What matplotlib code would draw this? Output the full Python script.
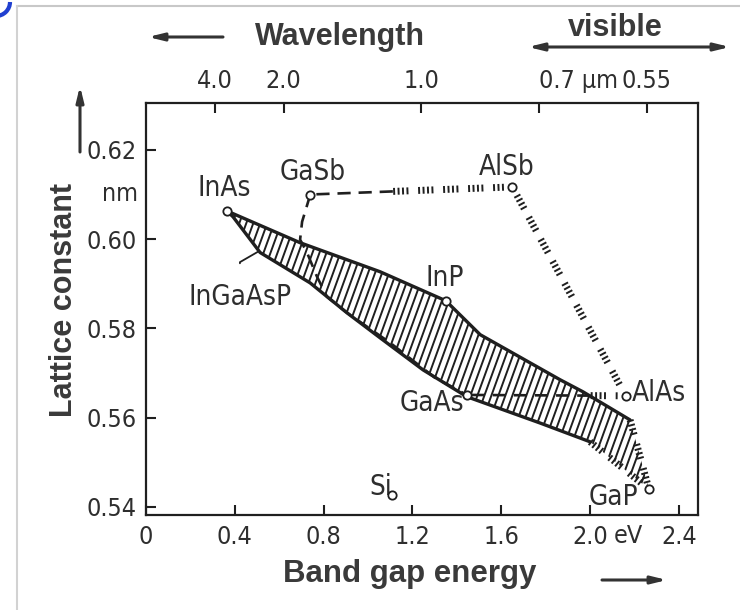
import matplotlib
matplotlib.use("Agg")
import matplotlib.pyplot as plt
import numpy as np
from matplotlib import font_manager
from matplotlib.patches import Polygon, Arc
from matplotlib.collections import LineCollection
from matplotlib.lines import Line2D

# binaries: band gap (eV) and lattice constant (nm)
compounds = ["InAs", "GaSb", "AlSb", "InP", "GaAs", "AlAs", "Si", "GaP"]
gap = [0.365, 0.74, 1.65, 1.35, 1.445, 2.16, 1.11, 2.265]
lattice = [0.6063, 0.6100, 0.6117, 0.5862, 0.5651, 0.5649, 0.5427, 0.5440]

# InGaAsP region, upper and lower edge (InAs -> right side)
upper_gap = [0.365, 0.694, 1.054, 1.35, 1.505, 1.865, 1.968, 2.18]
upper_lat = [0.6063, 0.5992, 0.5927, 0.5862, 0.5786, 0.5685, 0.5658, 0.5595]
lower_gap = [0.365, 0.392, 0.514, 0.739, 0.905, 1.054, 1.248, 1.445, 1.775, 2.0]
lower_lat = [0.6063, 0.6050, 0.5970, 0.5902, 0.5835, 0.5779, 0.5707, 0.5647, 0.5588, 0.5546]

# GaAsSb curve GaSb -> GaAs
gaassb_gap = [0.74, 0.703, 0.694, 0.725, 0.77, 0.815, 0.905, 0.995, 1.099, 1.30, 1.445]
gaassb_lat = [0.6100, 0.6039, 0.5999, 0.5970, 0.5916, 0.5871, 0.5835, 0.5804, 0.5768, 0.5690, 0.5651]

# axis ticks
e_ticks = [0, 0.4, 0.8, 1.2, 1.6, 2.0, 2.4]
e_labels = ["0", "0.4", "0.8", "1.2", "1.6", "2.0", "2.4"]
a_ticks = [0.54, 0.56, 0.58, 0.60, 0.62]
a_labels = ["0.54", "0.56", "0.58", "0.60", "0.62"]
wl_ticks = [4.0, 2.0, 1.0, 0.7, 0.55]
wl_labels = ["4.0", "2.0", "1.0", "0.7 µm", "0.55"]

INK = "#1f1f1f"
TXT = "#2e2e2e"
BOLD = ["Liberation Sans", "DejaVu Sans"]

# pick a narrow face for the technical lettering if one is installed
fonts = font_manager.fontManager.ttflist
names = {f.name for f in fonts}
narrow = dict(family=["Liberation Sans", "DejaVu Sans"])
small, big = 17, 19
if "Liberation Sans Narrow" in names:
    narrow = dict(family=["Liberation Sans Narrow", "DejaVu Sans"])
    small, big = 20, 22
elif any(f.name == "DejaVu Sans" and "condensed" in str(f.stretch) for f in fonts):
    narrow = dict(family=["DejaVu Sans"], stretch="condensed")
    small, big = 18, 20

# label offsets in pixels (dx, dy) from the point
offsets = {"InAs": (-3, 23), "GaSb": (2, 23), "AlSb": (-6, 20), "InP": (-1, 23),
           "GaAs": (-35, -8), "AlAs": (33, 3), "Si": (-12, 8), "GaP": (-35, -8)}

TICKED = dict(color=INK, lw=5.0, dashes=(0.28, 0.36, 0.28, 0.36, 0.28, 0.36, 0.28, 1.4),
              dash_capstyle="butt", solid_capstyle="butt")
DASHED = dict(color=INK, lw=1.9, dashes=(5, 3))

fig = plt.figure(figsize=(7.4, 6.1), dpi=100)
ax = fig.add_axes([146 / 740, 1 - 515 / 610, 552 / 740, 412 / 610])
ax.set_xlim(0.0, 2.486)
ax.set_ylim(0.5382, 0.6305)

pt = dict(zip(compounds, zip(gap, lattice)))

def seg(a, b, f0=0.0, f1=1.0):
    (x0, y0), (x1, y1) = pt[a], pt[b]
    return [x0 + f0 * (x1 - x0), x0 + f1 * (x1 - x0)], [y0 + f0 * (y1 - y0), y0 + f1 * (y1 - y0)]

# hatched InGaAsP region
poly_x = upper_gap + [pt["GaP"][0]] + lower_gap[::-1]
poly_y = upper_lat + [pt["GaP"][1]] + lower_lat[::-1]
region = Polygon(np.column_stack([poly_x, poly_y]), closed=True, fill=False, lw=0)
ax.add_patch(region)
starts = np.arange(-0.9, 2.6, 0.0315)
hatch = LineCollection([[(s, 0.535), (s + 0.709, 0.632)] for s in starts],
                       colors=INK, linewidths=1.4)
ax.add_collection(hatch)
hatch.set_clip_path(region)

ax.plot(upper_gap, upper_lat, color=INK, lw=2.4, solid_capstyle="round")
ax.plot(lower_gap, lower_lat, color=INK, lw=2.4, solid_capstyle="round")
ax.plot([upper_gap[-1], pt["GaP"][0]], [upper_lat[-1], pt["GaP"][1]], **TICKED)
ax.plot([lower_gap[-1], pt["GaP"][0]], [lower_lat[-1], pt["GaP"][1]], **TICKED)

# ternary lines
x, y = seg("GaSb", "AlSb", 0.03, 0.41)
ax.plot(x, y, **DASHED)
x, y = seg("GaSb", "AlSb", 0.41, 0.97)
ax.plot(x, y, **TICKED)
x, y = seg("AlSb", "AlAs", 0.04, 0.96)
ax.plot(x, y, **TICKED)
x, y = seg("GaAs", "AlAs", 0.03, 0.78)
ax.plot(x, y, **DASHED)
x, y = seg("GaAs", "AlAs", 0.78, 0.96)
ax.plot(x, y, **TICKED)
ax.plot(gaassb_gap, gaassb_lat, **DASHED)

ax.plot(gap, lattice, "o", ms=6, mfc="white", mec=INK, mew=1.3, zorder=5)

for name, gx, ly in zip(compounds, gap, lattice):
    dx, dy = offsets[name]
    ax.annotate(name, (gx, ly), xytext=(dx, dy), textcoords="offset pixels",
                ha="center", va="center", fontsize=big, color=TXT, **narrow)

ax.annotate("InGaAsP", xy=(0.505, 0.5972), xytext=(0.423, 0.5871),
            ha="center", va="center", fontsize=big, color=TXT, **narrow,
            arrowprops=dict(arrowstyle="-", color=INK, lw=1.3, shrinkA=12, shrinkB=0,
                            connectionstyle="angle,angleA=90,angleB=30,rad=0"))

# axes styling
for s in ax.spines.values():
    s.set_color(INK)
    s.set_linewidth(1.6)
ax.set_xticks(e_ticks)
ax.set_xticklabels(e_labels, fontsize=small, color=TXT, **narrow)
ax.set_yticks(a_ticks)
ax.set_yticklabels(a_labels, fontsize=small, color=TXT, **narrow)
ax.tick_params(direction="in", length=7, width=1.5, color=INK, pad=7)

top = ax.twiny()
top.set_xlim(ax.get_xlim())
top.set_xticks([1.24 / w for w in wl_ticks])
top.set_xticklabels(wl_labels, fontsize=small, color=TXT, **narrow)
top.tick_params(direction="in", length=7, width=1.5, color=INK, pad=7)
for s in top.spines.values():
    s.set_visible(False)
for lab in top.get_xticklabels():
    if "µm" in lab.get_text():
        lab.set_ha("left")

fig.text(628 / 740, 1 - 536 / 610, "eV", ha="center", va="center",
         fontsize=small, color=TXT, **narrow)

# titles and arrows
arrow = dict(arrowstyle="-|>,head_length=0.9,head_width=0.22", color="#333333", lw=2.2,
             shrinkA=0, shrinkB=0)
fig.text(340 / 740, 1 - 37 / 610, "Wavelength", ha="center", va="center",
         family=BOLD, weight="bold", fontsize=22, color="#3a3a3a")
ax.annotate("", xy=(148 / 740, 1 - 37 / 610), xytext=(223 / 740, 1 - 37 / 610),
            xycoords="figure fraction", arrowprops=arrow)
fig.text(615 / 740, 1 - 28 / 610, "visible", ha="center", va="center",
         family=BOLD, weight="bold", fontsize=22, color="#3a3a3a")
ax.annotate("", xy=(528 / 740, 1 - 47 / 610), xytext=(730 / 740, 1 - 47 / 610),
            xycoords="figure fraction",
            arrowprops=dict(arrowstyle="<|-|>,head_length=0.9,head_width=0.22",
                            color="#333333", lw=2.2, shrinkA=0, shrinkB=0))
fig.text(410 / 740, 1 - 574 / 610, "Band gap energy", ha="center", va="center",
         family=BOLD, weight="bold", fontsize=22.5, color="#3a3a3a")
ax.annotate("", xy=(667 / 740, 1 - 580 / 610), xytext=(602 / 740, 1 - 580 / 610),
            xycoords="figure fraction", arrowprops=arrow)
fig.text(64 / 740, 1 - 300 / 610, "Lattice constant", ha="center", va="center",
         rotation=90, family=BOLD, weight="bold", fontsize=22, color="#3a3a3a")
ax.annotate("", xy=(80 / 740, 1 - 86 / 610), xytext=(80 / 740, 1 - 152 / 610),
            xycoords="figure fraction", arrowprops=arrow)
fig.text(120 / 740, 1 - 194 / 610, "nm", ha="center", va="center",
         fontsize=small, color=TXT, **narrow)

# scan border remnants
fig.add_artist(Line2D([17 / 740, 1], [1 - 6 / 610, 1 - 6 / 610], color="#c8c8c8", lw=1.5))
fig.add_artist(Line2D([17 / 740, 17 / 740], [0, 1 - 6 / 610], color="#d2d2d2", lw=1.5))
fig.add_artist(Arc((-4 / 740, 1 - 2 / 610), 28 / 740, 28 / 610, theta1=270, theta2=360,
                   color="#2040d0", lw=3, transform=fig.transFigure))

fig.savefig("out.png", dpi=100)
